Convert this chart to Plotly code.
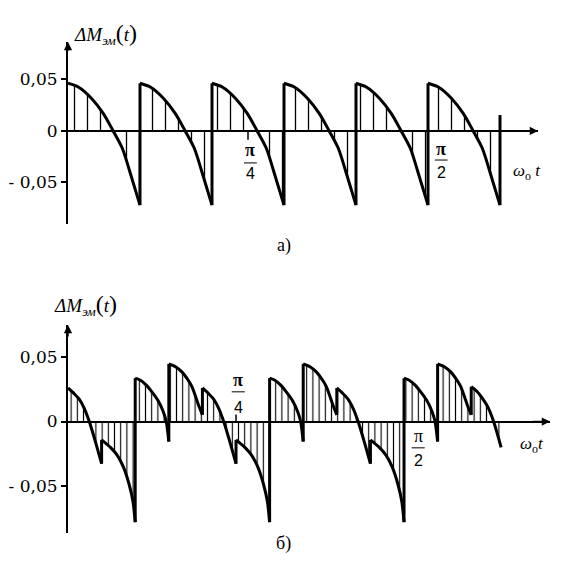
import plotly.graph_objects as go

# page body has an 8 px margin: the figure is sized and positioned to fit inside it
OFF = 8
FW, FH = 556, 561

# ---------------- data: chart (а) ----------------
# x in degrees of ω0t (π/4 = 45°, π/2 = 90°)
a_period_starts = [0, 18, 36, 54, 72, 90]
a_profile_dx = [0, 2.75, 5.9, 8.8, 11.3, 13.6, 15.5, 18]
a_profile_val = [0.0463, 0.0423, 0.0316, 0.0171, 0.0, -0.017, -0.040, -0.072]
a_tail_x = 108
a_tail_top = 0.0155

# ---------------- data: chart (б) ----------------
b_P_dx = [0, 1.5, 3.0, 4.3, 5.7, 7.2, 9.0]
b_P_val = [0.026, 0.022, 0.0173, 0.0106, 0.0, -0.0142, -0.0327]
b_N_dx = [0, 2.5, 4.2, 5.8, 7.4, 8.4, 9.0]
b_N_val = [-0.0142, -0.0204, -0.0262, -0.035, -0.049, -0.062, -0.078]
b_Q_dx = [0, 1.4, 2.9, 4.4, 6.0, 7.5, 8.3, 9.0]
b_Q_val = [0.0336, 0.032, 0.0284, 0.0232, 0.0168, 0.0077, 0.0, -0.0155]
b_R_dx = [0, 1.9, 3.5, 5.2, 6.2, 8.1, 9.0]
b_R_val = [0.0447, 0.0423, 0.0385, 0.032, 0.027, 0.0116, 0.0052]
b_E_dx = [0, 1.5, 3.0, 4.5, 6.0, 8.0]
b_E_val = [0.027, 0.0235, 0.018, 0.011, 0.0, -0.020]
b_seg_starts = [0, 9, 18, 27, 36, 45, 54, 63, 72, 81, 90, 99, 108]
b_seg_types = ["P", "N", "Q", "R", "P", "N", "Q", "R", "P", "N", "Q", "R", "E"]

# tick labels
y_tickvals = [-0.05, 0, 0.05]
y_ticktext = ["- 0,05", "0", "0,05"]
x_mark_deg = [45, 90]

# ---------------- layout geometry ----------------
a_xrange = [0, 117.5]
a_yrange = [-0.0903, 0.0864]
b_xrange = [0, 129.1]
b_yrange = [-0.0864, 0.0748]

SERIF = "Liberation Serif"
TICKF = "DejaVu Serif"
SANS = "Liberation Sans"


def px2x(px):
    return (px - OFF) / FW


def py2y(py):
    return 1 - (py - OFF) / FH


fig = go.Figure()

pat_a = dict(shape="|", size=13, solidity=0.1, fgcolor="black", bgcolor="rgba(0,0,0,0)", fgopacity=1)
pat_b = dict(shape="|", size=6.2, solidity=0.18, fgcolor="black", bgcolor="rgba(0,0,0,0)", fgopacity=1)

# chart a curves
for s in a_period_starts:
    fig.add_trace(go.Scatter(
        x=[s + d for d in a_profile_dx], y=a_profile_val, mode="lines",
        line=dict(color="black", width=3, shape="spline", smoothing=0.8),
        fill="tozeroy", fillcolor="rgba(0,0,0,0)", fillpattern=pat_a,
        xaxis="x", yaxis="y", showlegend=False, hoverinfo="skip"))
jx, jy = [], []
for s in a_period_starts[1:]:
    jx += [s, s, None]
    jy += [a_profile_val[-1], a_profile_val[0], None]
jx += [a_tail_x, a_tail_x]
jy += [a_profile_val[-1], a_tail_top]
fig.add_trace(go.Scatter(x=jx, y=jy, mode="lines", line=dict(color="black", width=3),
                         xaxis="x", yaxis="y", showlegend=False, hoverinfo="skip"))

# chart b curves
tmpl = {"P": (b_P_dx, b_P_val), "N": (b_N_dx, b_N_val), "Q": (b_Q_dx, b_Q_val),
        "R": (b_R_dx, b_R_val), "E": (b_E_dx, b_E_val)}
jx, jy = [], []
prev_end = None
for s, t in zip(b_seg_starts, b_seg_types):
    dx, val = tmpl[t]
    fig.add_trace(go.Scatter(
        x=[s + d for d in dx], y=val, mode="lines",
        line=dict(color="black", width=3, shape="spline", smoothing=0.8),
        fill="tozeroy", fillcolor="rgba(0,0,0,0)", fillpattern=pat_b,
        xaxis="x2", yaxis="y2", showlegend=False, hoverinfo="skip"))
    if prev_end is not None:
        jx += [s, s, None]
        jy += [prev_end, val[0], None]
    prev_end = val[-1]
fig.add_trace(go.Scatter(x=jx, y=jy, mode="lines", line=dict(color="black", width=3),
                         xaxis="x2", yaxis="y2", showlegend=False, hoverinfo="skip"))


def yax(domain, rng, anchor):
    return dict(domain=domain, range=rng, showline=True, linecolor="black", linewidth=2,
                ticks="outside", ticklen=5, tickwidth=1.5, tickcolor="black",
                tickvals=y_tickvals, ticktext=y_ticktext, showgrid=False,
                zeroline=True, zerolinecolor="black", zerolinewidth=2, anchor=anchor,
                tickfont=dict(family=TICKF, size=17, color="black"), fixedrange=True)


def xax(domain, rng, anchor):
    return dict(domain=domain, range=rng, showline=False, showticklabels=False,
                showgrid=False, zeroline=False, ticks="", anchor=anchor, fixedrange=True)


fig.update_layout(
    width=FW, height=FH, margin=dict(l=0, r=0, t=0, b=0),
    paper_bgcolor="white", plot_bgcolor="white",
    font=dict(family=SERIF),
    xaxis=xax([px2x(68), px2x(538)], a_xrange, "y"),
    yaxis=yax([py2y(224), py2y(42)], a_yrange, "x"),
    xaxis2=xax([px2x(68), px2x(550)], b_xrange, "y2"),
    yaxis2=yax([py2y(533), py2y(325)], b_yrange, "x2"),
)

ann = []
shapes = []
# arrowheads of axes
for xr, yr, xrng, yrng in [("x", "y", a_xrange, a_yrange), ("x2", "y2", b_xrange, b_yrange)]:
    ann.append(dict(x=0, y=yrng[1], ax=0, ay=yrng[1] - 0.01, xref=xr, yref=yr, axref=xr, ayref=yr,
                    showarrow=True, arrowhead=2, arrowsize=1.1, arrowwidth=1.5, arrowcolor="black", text=""))
    ann.append(dict(x=xrng[1], y=0, ax=xrng[1] - 5, ay=0, xref=xr, yref=yr, axref=xr, ayref=yr,
                    showarrow=True, arrowhead=2, arrowsize=1.1, arrowwidth=1.5, arrowcolor="black", text=""))


def frac(xr, yr, xc, top_txt, bot_txt, y_top, y_bar, y_bot, half_w):
    ann.append(dict(x=xc, y=y_top, xref=xr, yref=yr, text=top_txt, showarrow=False,
                    font=dict(family=SERIF, size=18, color="black")))
    ann.append(dict(x=xc, y=y_bot, xref=xr, yref=yr, text=bot_txt, showarrow=False,
                    font=dict(family=SANS, size=16, color="black")))
    shapes.append(dict(type="line", xref=xr, yref=yr, x0=xc - half_w, x1=xc + half_w, y0=y_bar, y1=y_bar,
                       line=dict(color="black", width=1)))


# chart a: π/4 tick and labels
shapes.append(dict(type="line", xref="x", yref="y", x0=x_mark_deg[0], x1=x_mark_deg[0], y0=0, y1=-0.0085,
                   line=dict(color="black", width=1.5)))
frac("x", "y", 45.6, "<b>π</b>", "4", -0.0185, -0.031, -0.0415, 1.6)
frac("x", "y", 93.3, "<b>π</b>", "2", -0.0175, -0.0282, -0.0405, 1.6)
# chart b
shapes.append(dict(type="line", xref="x2", yref="y2", x0=x_mark_deg[0], x1=x_mark_deg[0], y0=0, y1=0.0055,
                   line=dict(color="black", width=1.5)))
frac("x2", "y2", 45.6, "<b>π</b>", "4", 0.032, 0.023, 0.0112, 1.75)
frac("x2", "y2", 93.8, "π", "2", -0.011, -0.0204, -0.0305, 1.75)


def lbl(px, py, text, size=17, family=SERIF):
    ann.append(dict(x=px2x(px), y=py2y(py), xref="paper", yref="paper", text=text, showarrow=False,
                    font=dict(family=family, size=size, color="black")))


ylab = ("<i>ΔM</i><sub><i>эм</i></sub><span style='font-size:24px'>(</span><i>t</i>"
        "<span style='font-size:24px'>)</span>")
lbl(72, 18, ylab, 19)
lbl(52, 305, ylab, 19)
lbl(543, 159, "<i>ω</i><sub>o</sub> <i>t</i>", 17)
lbl(546, 458, "<i>ω</i><sub>o</sub><i>t</i>", 17)
lbl(284, 245, "а)", 18)
lbl(283, 556, "б)", 18)

fig.update_layout(annotations=ann, shapes=shapes)
fig.write_html("out.html")
